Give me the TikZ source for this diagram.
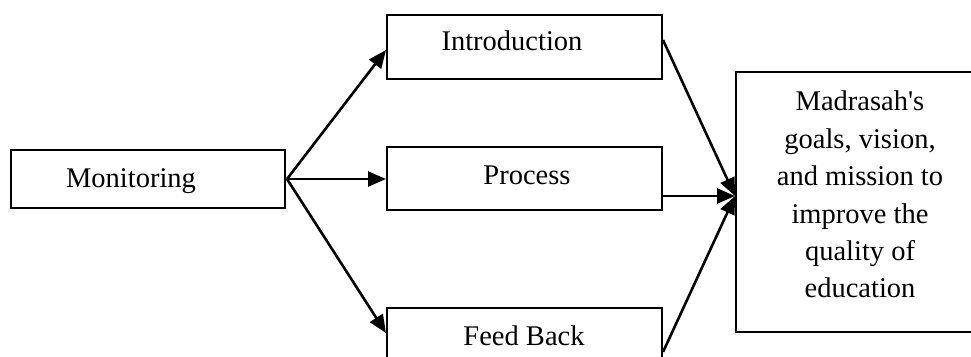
\documentclass[tikz,border=0pt]{standalone}
\usepackage{fontspec}
\setmainfont{Liberation Serif}
\usetikzlibrary{arrows.meta}
\begin{document}
\begin{tikzpicture}[x=1pt,y=-1pt,
  box/.style={draw,line width=2pt,inner sep=0pt},
  lbl/.style={anchor=base,inner sep=0pt,font=\fontsize{28.5}{38}\selectfont},
  arr/.style={line width=2.6pt,-{Triangle[length=18pt,width=15pt]}}]
\useasboundingbox (0,0) rectangle (971,356);
\node[box,minimum width=274pt,minimum height=58pt] (mon) at (148,179) {};
\node[box,minimum width=275pt,minimum height=64pt] (intro) at (524.5,47) {};
\node[box,minimum width=275pt,minimum height=63pt] (proc) at (524.5,178.5) {};
\node[box,minimum width=275pt,minimum height=64pt] (feed) at (524.5,340) {};
\node[box,minimum width=264pt,minimum height=260pt] (goal) at (868,202) {};
\node[lbl] (tmon) at (131,187) {Monitoring};
\node[lbl] (tintro) at (512,50) {Introduction};
\node[lbl] (tproc) at (527,184) {Process};
\node[lbl] (tfeed) at (524,345) {Feed Back};
\node[lbl] (g1) at (860,110) {Madrasah\textquotesingle s};
\node[lbl] (g2) at (860,148) {goals, vision,};
\node[lbl] (g3) at (860,185) {and mission to};
\node[lbl] (g4) at (860,223) {improve the};
\node[lbl] (g5) at (860,260) {quality of};
\node[lbl] (g6) at (860,297) {education};
\coordinate (src) at ([xshift=1pt]mon.east);
\coordinate (dst) at ([yshift=6pt]goal.west);
\draw[arr] (src) -- ([yshift=-3pt]intro.west);
\draw[arr] (src) -- ([yshift=-0.5pt]proc.west);
\draw[arr] (src) -- ([yshift=7pt]feed.west);
\draw[arr] ([yshift=7pt]intro.east) -- (dst);
\draw[arr] ([yshift=-17.5pt]proc.east) -- (dst);
\draw[arr] ([yshift=-12pt]feed.east) -- (dst);
\end{tikzpicture}
\end{document}
